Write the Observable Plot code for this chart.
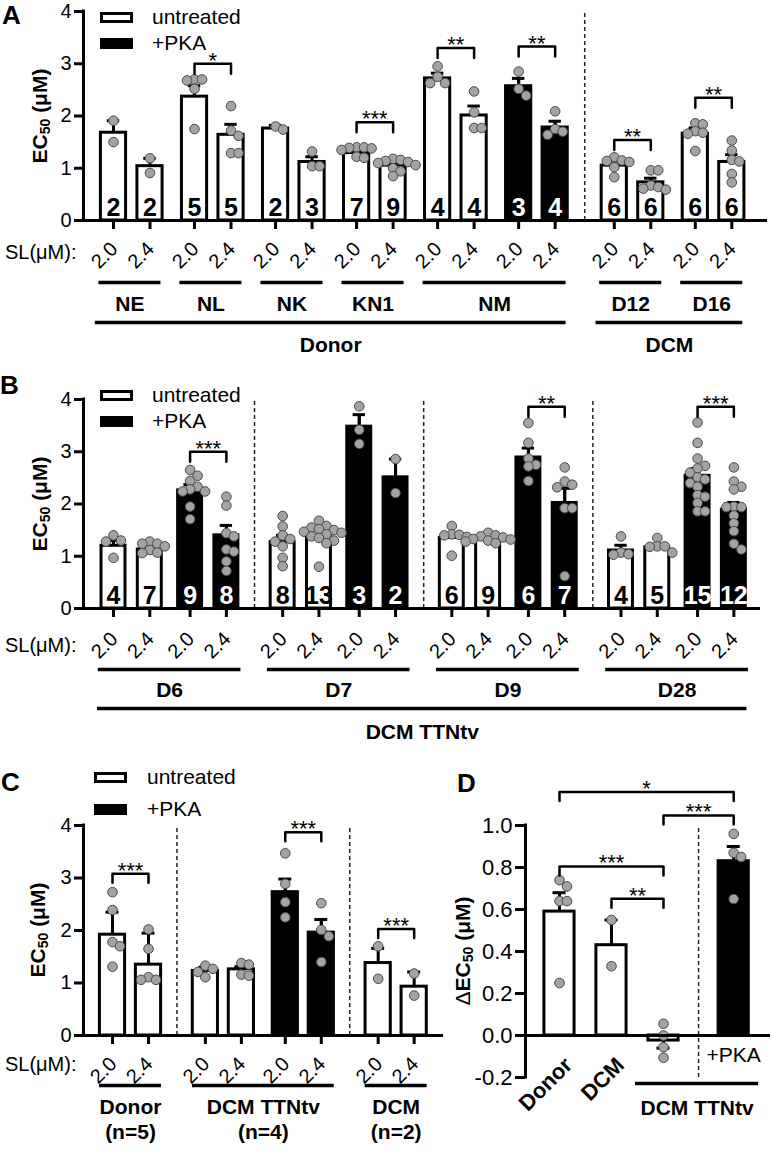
<!DOCTYPE html>
<html><head><meta charset="utf-8">
<script src="https://cdn.jsdelivr.net/npm/d3@7"></script>
<script src="https://cdn.jsdelivr.net/npm/@observablehq/plot@0.6"></script>
<style>
body{margin:0;background:#fff;}
#fig{position:relative;width:771px;height:1153px;font-family:Arial,"Liberation Sans",Helvetica,sans-serif;overflow:hidden;color:#000}
.panel{position:absolute}
.letter{position:absolute;font-weight:bold;font-size:26px;line-height:1.15}
.ylab{position:absolute;font-weight:bold;font-size:21px;line-height:1;white-space:nowrap;transform:translate(-50%,-50%) rotate(-90deg)}
.ylab sub{font-size:14px;vertical-align:-3px}
.sw{position:absolute;width:33px;height:11px;box-sizing:border-box;border:3px solid #000}
.lt{position:absolute;font-size:21px;line-height:22px;white-space:nowrap}
</style></head>
<body><div id="fig"></div>
<script>
// ================= DATA =================
// Panel A
const aGroup  = ["NE","NE","NL","NL","NK","NK","KN1","KN1","NM","NM","NM","NM","D12","D12","D16","D16"];
const aCohort = ["Donor","Donor","Donor","Donor","Donor","Donor","Donor","Donor","Donor","Donor","Donor","Donor","DCM","DCM","DCM","DCM"];
const aTreat  = ["untreated","untreated","untreated","untreated","untreated","untreated","untreated","untreated","untreated","untreated","+PKA","+PKA","untreated","untreated","untreated","untreated"];
const aSL     = ["2.0","2.4","2.0","2.4","2.0","2.4","2.0","2.4","2.0","2.4","2.0","2.4","2.0","2.4","2.0","2.4"];
const aMean   = [1.68,1.04,2.37,1.64,1.76,1.12,1.29,1.05,2.72,2.01,2.57,1.78,1.05,0.73,1.66,1.12];
const aSEM    = [0.23,0.15,0.21,0.20,0.06,0.10,0.06,0.06,0.10,0.18,0.15,0.12,0.09,0.08,0.11,0.14];
const aN      = [2,2,5,5,2,3,7,9,4,4,3,4,6,6,6,6];
const aPoints = [
  [1.91,1.50],[1.19,0.91],
  [2.70,2.70,2.68,2.52,1.75],[2.19,1.72,1.62,1.29,1.29],
  [1.80,1.74],[1.32,1.04,1.04],
  [1.40,1.40,1.39,1.38,1.35,1.22,1.20],[1.18,1.16,1.14,1.12,1.10,1.06,1.00,0.94,0.85],
  [2.95,2.75,2.63,2.63],[2.47,2.07,1.77,1.77],
  [2.85,2.52,2.39],[2.09,1.75,1.70,1.64],
  [1.21,1.15,1.14,1.12,1.02,0.83],[0.96,0.96,0.67,0.64,0.61,0.59],
  [1.86,1.84,1.71,1.68,1.66,1.33],[1.53,1.34,1.16,1.13,0.89,0.73]
];
const aSig = [[2,3,3.00,"*"],[6,7,1.88,"***"],[8,9,3.30,"**"],[10,11,3.33,"**"],[12,13,1.54,"**"],[14,15,2.35,"**"]];

// Panel B
const bGroup  = ["D6","D6","D6","D6","D7","D7","D7","D7","D9","D9","D9","D9","D28","D28","D28","D28"];
const bCohort = "DCM TTNtv";
const bTreat  = ["untreated","untreated","+PKA","+PKA","untreated","untreated","+PKA","+PKA","untreated","untreated","+PKA","+PKA","untreated","untreated","+PKA","+PKA"];
const bSL     = ["2.0","2.4","2.0","2.4","2.0","2.4","2.0","2.4","2.0","2.4","2.0","2.4","2.0","2.4","2.0","2.4"];
const bMean   = [1.20,1.13,2.26,1.40,1.27,1.39,3.48,2.51,1.35,1.33,2.89,2.02,1.11,1.17,2.54,1.89];
const bSEM    = [0.10,0.07,0.11,0.19,0.13,0.12,0.23,0.35,0.07,0.05,0.18,0.28,0.10,0.06,0.14,0.14];
const bN      = [4,7,9,8,8,13,3,2,6,9,6,7,4,5,15,12];
const bPoints = [
  [1.40,1.30,1.28,0.97],[1.28,1.24,1.24,1.19,1.12,1.07,1.06],
  [2.65,2.54,2.44,2.33,2.28,2.24,2.24,1.95,1.71],[2.14,1.97,1.44,1.38,1.13,1.09,0.90,0.72],
  [1.77,1.57,1.40,1.33,1.28,1.19,0.97,0.81],[1.68,1.58,1.55,1.52,1.50,1.47,1.45,1.42,1.38,1.35,1.30,1.25,0.80],
  [3.87,3.42,3.15],[2.86,2.21],
  [1.58,1.42,1.41,1.40,1.37,1.01],[1.45,1.40,1.38,1.36,1.33,1.32,1.30,1.28,1.25],
  [3.55,3.17,2.87,2.75,2.72,2.44],[2.70,2.43,2.37,2.32,1.92,1.92,0.62],
  [1.38,1.07,1.04,1.03],[1.35,1.19,1.19,1.18,1.07],
  [3.56,3.17,2.87,2.73,2.68,2.60,2.51,2.47,2.40,2.33,2.17,2.14,2.02,1.86,1.86],
  [2.70,2.43,2.33,2.28,1.95,1.94,1.94,1.78,1.63,1.48,1.24,1.13]
];
const bSig = [[2,3,3.00,"***"],[10,11,3.86,"**"],[14,15,3.86,"***"]];

// Panel C
const cGroup  = ["Donor","Donor","DCM TTNtv","DCM TTNtv","DCM TTNtv","DCM TTNtv","DCM","DCM"];
const cGroupN = {"Donor":"(n=5)","DCM TTNtv":"(n=4)","DCM":"(n=2)"};
const cTreat  = ["untreated","untreated","untreated","untreated","+PKA","+PKA","untreated","untreated"];
const cSL     = ["2.0","2.4","2.0","2.4","2.0","2.4","2.0","2.4"];
const cMean   = [1.92,1.35,1.23,1.26,2.73,1.96,1.38,0.93];
const cSEM    = [0.43,0.60,0.07,0.05,0.25,0.25,0.28,0.28];
const cPoints = [
  [2.73,2.39,1.78,1.70,1.31],[2.02,1.65,1.11,1.06,1.06],
  [1.33,1.27,1.21,1.11],[1.38,1.35,1.16,1.14],
  [3.47,2.89,2.54,2.25],[2.52,2.01,1.89,1.40],
  [1.70,1.08],[1.18,0.76]
];
const cSig = [[0,1,3.08,"***"],[4,5,3.87,"***"],[6,7,2.03,"***"]];

// Panel D
const dCat    = ["Donor","DCM","DCM TTNtv","DCM TTNtv"];
const dTreat  = ["untreated","untreated","untreated","+PKA"];
const dMean   = [0.59,0.43,-0.024,0.83];
const dSEM    = [0.09,0.12,0.036,0.07];
const dPoints = [[0.74,0.71,0.64,0.64,0.25],[0.55,0.33],[0.056,0.0,-0.056,-0.106],[0.96,0.87,0.85,0.65]];
const dSig = [[0,3,1.159,"*"],[2,3,1.048,"***"],[0,2,0.805,"***"],[1,2,0.651,"**"]];

// ================= HELPERS =================
const FONT = "Arial, 'Liberation Sans', Helvetica, sans-serif";

function makeRows(o) {
  const rows = [];
  o.mean.forEach((m, i) => {
    let pos = 0;
    if (i > 0) {
      const prev = rows[i - 1];
      const secChange = o.section[i] !== o.section[i - 1];
      const pairChange = (o.group[i] + o.treat[i]) !== (o.group[i - 1] + o.treat[i - 1]);
      pos = prev.pos + 1 + (secChange ? o.sGap : pairChange ? o.pGap : 0);
    }
    rows.push({i, pos, group: o.group[i], section: o.section[i], treat: o.treat[i],
      sl: o.sl ? o.sl[i] : "", n: o.n ? o.n[i] : "", mean: m,
      err: m + (m < 0 ? -1 : 1) * o.sem[i], pts: o.points[i]});
  });
  return rows;
}

function spread(rows, xUnit, yUnit, step, minD) {
  const out = [];
  for (const r of rows) {
    const placed = [];
    const vals = r.pts.slice().sort((a, b) => b - a);
    for (const v of vals) {
      let off = 0;
      for (let k = 0; k < 40; k++) {
        const cand = k === 0 ? 0 : (k % 2 ? 1 : -1) * Math.ceil(k / 2) * step;
        if (placed.every(p => Math.hypot(p.off - cand, (p.v - v) * yUnit) >= minD)) { off = cand; break; }
      }
      placed.push({off, v});
      out.push({x: r.pos + off / xUnit, y: v});
    }
  }
  return out;
}

function spans(rows, key, a, b) {
  const m = new Map();
  rows.forEach(r => {
    const k = r[key];
    if (!m.has(k)) m.set(k, {name: k, lo: r.pos, hi: r.pos});
    const s = m.get(k); s.lo = Math.min(s.lo, r.pos); s.hi = Math.max(s.hi, r.pos);
  });
  return [...m.values()].map(s => ({name: s.name, x1: s.lo - a, x2: s.hi + b, xc: (s.lo - a + s.hi + b) / 2}));
}

function dividers(rows) {
  const out = [];
  for (let i = 1; i < rows.length; i++) if (rows[i].section !== rows[i - 1].section) out.push((rows[i].pos + rows[i - 1].pos) / 2);
  return out;
}

function panel(cfg) {
  const {rows, width, height, mt, mb, ml, mr, unit, firstPx, yDomain, yTicks, tickFont, tickSize, hw, cap, sig, drop, fmt} = cfg;
  const x0 = -(firstPx - ml) / unit;
  const xDomain = [x0, x0 + (width - ml - mr) / unit];
  const yUnit = (height - mt - mb) / (yDomain[1] - yDomain[0]);
  const dots = spread(rows, unit, yUnit, 7.5, 7.5);
  const sigLines = [], sigText = [];
  sig.forEach(([a, b, y, label], k) => {
    const xa = rows[a].pos, xb = rows[b].pos, d = drop / yUnit;
    sigLines.push({k, x: xa, y: y - d}, {k, x: xa, y}, {k, x: xb, y}, {k, x: xb, y: y - d});
    sigText.push({x: (xa + xb) / 2, y, label});
  });
  const marks = [
    Plot.ruleX(dividers(rows), {y1: yDomain[0], y2: yDomain[1], strokeWidth: 1.5, strokeDasharray: "4,3", stroke: "#222"}),
    Plot.ruleX(rows, {x: "pos", y1: "mean", y2: "err", strokeWidth: 3}),
    Plot.ruleY(rows, {y: "err", x1: d => d.pos - cap, x2: d => d.pos + cap, strokeWidth: 3}),
    Plot.rect(rows, {x1: d => d.pos - hw, x2: d => d.pos + hw, y1: 0, y2: "mean",
      fill: d => d.treat === "+PKA" ? "black" : "white", stroke: "black", strokeWidth: 3}),
    Plot.ruleX(rows.filter(d => d.treat === "+PKA"), {x: "pos", y1: "mean", y2: "err", strokeWidth: 3}),
    Plot.dot(dots, {x: "x", y: "y", r: 4.8, fill: "#a3a3a3", stroke: "#4a4a4a", strokeWidth: 1}),
    Plot.line(sigLines, {x: "x", y: "y", z: "k", strokeWidth: 2.5, stroke: "black"}),
    Plot.text(sigText, {x: "x", y: "y", text: "label", fontSize: 22, dy: 4, lineAnchor: "bottom"}),
    Plot.ruleY([0], {strokeWidth: 3}),
    Plot.ruleX([xDomain[0]], {y1: yDomain[0], y2: yDomain[1], strokeWidth: 3, strokeLinecap: "square"}),
    Plot.axisY({ticks: yTicks, tickSize, tickPadding: 3, fontSize: tickFont, strokeWidth: 3, tickFormat: fmt, label: null}),
    ...cfg.extra(rows)
  ];
  const xOpt = {type: "linear", domain: xDomain};
  if (cfg.noXAxis) xOpt.axis = null;
  return Plot.plot({width, height, marginTop: mt, marginBottom: mb, marginLeft: ml, marginRight: mr,
    x: xOpt, y: {domain: yDomain},
    style: {fontFamily: FONT, background: "transparent", overflow: "visible", color: "black"}, marks});
}

function slMarks(rows, slDy, rotDy) {
  return [
    Plot.axisX({ticks: rows.map(d => d.pos), tickSize: 9, tickFormat: () => "", strokeWidth: 3, label: null}),
    Plot.text(rows, {x: "pos", y: 0, text: "sl", rotate: -45, dx: -9, dy: rotDy, fontSize: 20, textAnchor: "middle", lineAnchor: "middle"}),
    Plot.text(["SL(\u03BCM):"], {text: d => d, frameAnchor: "bottom-left", dx: -7, dy: slDy, textAnchor: "end", lineAnchor: "middle", fontSize: 20}),
    Plot.text(rows, {x: "pos", y: 0, text: "n", dy: -5, lineAnchor: "bottom", fontSize: 25, fontWeight: "bold", ariaLabel: "nlabel",
      fill: d => d.treat === "+PKA" ? "white" : "black"})
  ];
}

// ================= BUILD =================
const fig = document.getElementById("fig");
function place(el, left, top) {
  el.classList.add("panel"); el.style.left = left + "px"; el.style.top = top + "px"; fig.appendChild(el);
  // condensed look for the n labels inside bars
  el.querySelectorAll('g[aria-label="nlabel"] text').forEach(t => {
    const L = t.getComputedTextLength();
    t.setAttribute("textLength", (L * 0.8).toFixed(1));
    t.setAttribute("lengthAdjust", "spacingAndGlyphs");
  });
}
function html(cls, left, top, inner, extraStyle) {
  const d = document.createElement("div"); d.className = cls; d.style.left = left + "px"; d.style.top = top + "px";
  if (extraStyle) d.style.cssText += extraStyle; d.innerHTML = inner; fig.appendChild(d); return d;
}
function legend(left, top1, top2, textLeft) {
  html("sw", left, top1, "", "background:#fff");
  html("sw", left, top2, "", "background:#000");
  html("lt", textLeft, top1 - 6, "untreated");
  html("lt", textLeft, top2 - 6, "+PKA");
}

// Panel A
const aRows = makeRows({group: aGroup, section: aCohort, treat: aTreat, sl: aSL, n: aN, mean: aMean, sem: aSEM, points: aPoints, pGap: 0.22, sGap: 0.62});
place(panel({rows: aRows, width: 771, height: 370, mt: 11, mb: 150, ml: 83, mr: 4, unit: 36.5, firstPx: 113,
  yDomain: [0, 4], yTicks: [0,1,2,3,4], tickFont: 20, tickSize: 9, hw: 0.345, cap: 0.17, sig: aSig, drop: 10, fmt: d => String(d),
  extra: rows => {
    const g = spans(rows, "group", 0.4, 0.3), c = spans(rows, "section", 0.5, 0.3);
    return [...slMarks(rows, 32, 35),
      Plot.ruleY(g, {y: 0, x1: "x1", x2: "x2", dy: 62, strokeWidth: 3.5}),
      Plot.text(g, {x: "xc", y: 0, text: "name", dy: 84, fontSize: 21, fontWeight: "bold", lineAnchor: "middle"}),
      Plot.ruleY(c, {y: 0, x1: "x1", x2: "x2", dy: 102, strokeWidth: 3.5}),
      Plot.text(c, {x: "xc", y: 0, text: "name", dy: 125, fontSize: 21, fontWeight: "bold", lineAnchor: "middle"})];
  }}), 0, 0);

// Panel B
const bRows = makeRows({group: bGroup, section: bGroup, treat: bTreat, sl: bSL, n: bN, mean: bMean, sem: bSEM, points: bPoints, pGap: 0.11, sGap: 0.55});
place(panel({rows: bRows, width: 771, height: 400, mt: 29, mb: 162, ml: 83, mr: 11, unit: 36.3, firstPx: 113,
  yDomain: [0, 4], yTicks: [0,1,2,3,4], tickFont: 20, tickSize: 9, hw: 0.33, cap: 0.17, sig: bSig, drop: 10, fmt: d => String(d),
  extra: rows => {
    const g = spans(rows, "group", 0.42, 0.4);
    const c = spans(rows.map(r => ({...r, coh: bCohort})), "coh", 0.44, 0.36);
    return [...slMarks(rows, 37, 37),
      Plot.ruleY(g, {y: 0, x1: "x1", x2: "x2", dy: 61, strokeWidth: 3.5}),
      Plot.text(g, {x: "xc", y: 0, text: "name", dy: 82, fontSize: 21, fontWeight: "bold", lineAnchor: "middle"}),
      Plot.ruleY(c, {y: 0, x1: "x1", x2: "x2", dy: 100, strokeWidth: 3.5}),
      Plot.text(c, {x: "xc", y: 0, text: "name", dy: 124, fontSize: 21, fontWeight: "bold", lineAnchor: "middle"})];
  }}), 0, 370);

// Panel C
const cRows = makeRows({group: cGroup, section: cGroup, treat: cTreat, sl: cSL, mean: cMean, sem: cSEM, points: cPoints, pGap: 0.22, sGap: 0.58});
place(panel({rows: cRows, width: 445, height: 383, mt: 55, mb: 118, ml: 83, mr: 2, unit: 36, firstPx: 112,
  yDomain: [0, 4], yTicks: [0,1,2,3,4], tickFont: 20, tickSize: 9, hw: 0.35, cap: 0.18, sig: cSig, drop: 9, fmt: d => String(d),
  extra: rows => {
    const g = spans(rows, "group", 0.36, 0.36);
    return [...slMarks(rows, 29, 35),
      Plot.ruleY(g, {y: 0, x1: "x1", x2: "x2", dy: 50, strokeWidth: 3.5}),
      Plot.text(g, {x: "xc", y: 0, text: "name", dy: 72, fontSize: 21, fontWeight: "bold", lineAnchor: "middle"}),
      Plot.text(g, {x: "xc", y: 0, text: d => cGroupN[d.name], dy: 97, fontSize: 21, fontWeight: "bold", lineAnchor: "middle"})];
  }}), 0, 770);

// Panel D
const dRows = makeRows({group: dCat, section: dTreat, treat: dTreat, mean: dMean, sem: dSEM, points: dPoints, pGap: 0, sGap: 0.35});
place(panel({rows: dRows, width: 326, height: 383, mt: 55, mb: 76, ml: 80, mr: 1, unit: 52, firstPx: 114, noXAxis: true,
  yDomain: [-0.2, 1.0], yTicks: [-0.2,0,0.2,0.4,0.6,0.8,1.0], tickFont: 22, tickSize: 10, hw: 0.29, cap: 0.125, sig: dSig, drop: 9,
  fmt: d => d.toFixed(1),
  extra: rows => {
    const rot = rows.filter(d => d.group !== "DCM TTNtv");
    const tt = spans(rows.filter(d => d.group === "DCM TTNtv"), "group", 0.54, 0.48);
    const pka = rows.filter(d => d.treat === "+PKA");
    return [
      Plot.text(rot, {x: "pos", y: 0, text: "group", rotate: -45, dx: 14, dy: 31, textAnchor: "end", lineAnchor: "bottom", fontSize: 22, fontWeight: "bold"}),
      Plot.text(pka, {x: "pos", y: 0, text: "treat", dy: 20, fontSize: 21, lineAnchor: "middle"}),
      Plot.ruleY(tt, {y: 0, x1: "x1", x2: "x2", dy: 48, strokeWidth: 3.5}),
      Plot.text(tt, {x: "xc", y: 0, text: "name", dy: 73, fontSize: 21, fontWeight: "bold", lineAnchor: "middle"})];
  }}), 445, 770);

// HTML overlays: panel letters, y titles, legends
html("letter", 2, 1, "A");
html("letter", 0, 371, "B");
html("letter", 1, 768, "C");
html("letter", 457, 769, "D");
html("ylab", 40, 116, "EC<sub>50</sub> (\u03BCM)");
html("ylab", 40, 504, "EC<sub>50</sub> (\u03BCM)");
html("ylab", 38, 930, "EC<sub>50</sub> (\u03BCM)");
html("ylab", 463, 951, "<span style='font-weight:normal'>\u0394</span>EC<sub>50</sub> (\u03BCM)");
legend(100, 12, 38, 152);
legend(100, 390, 416, 152);
legend(94, 772, 804, 147);
</script></body></html>
